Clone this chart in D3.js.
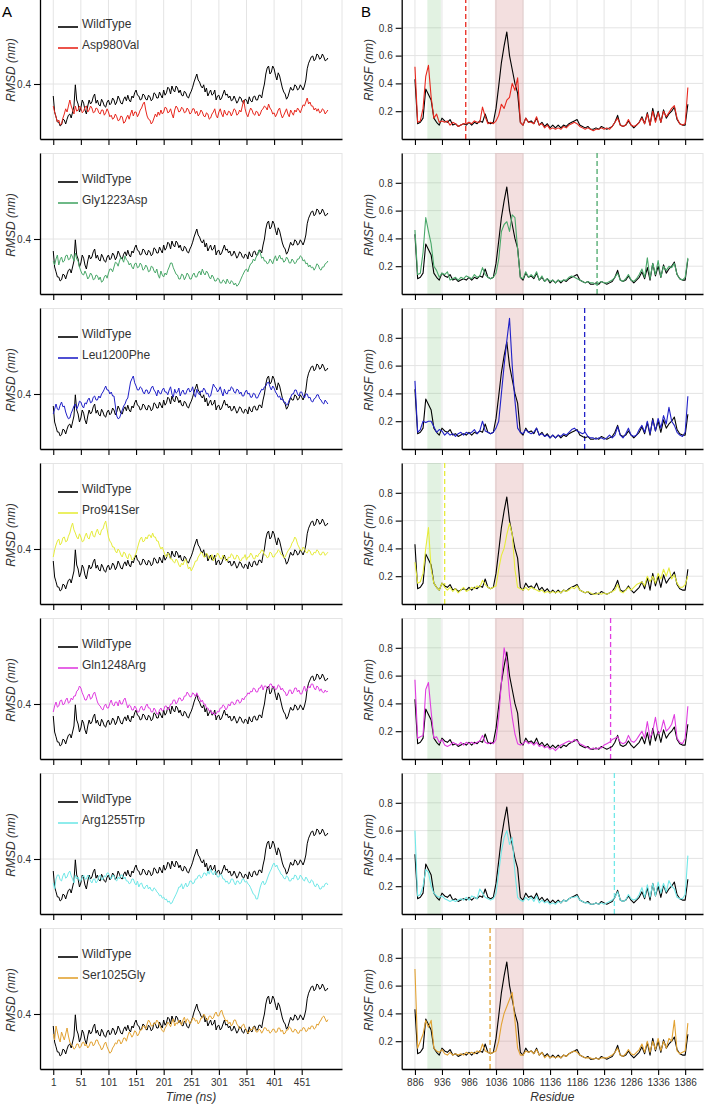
<!DOCTYPE html>
<html><head><meta charset="utf-8">
<script src="https://cdn.jsdelivr.net/npm/d3@7"></script>
<style>body{margin:0;background:#fff}svg{display:block}text{font-family:"Liberation Sans",Arial,Helvetica,sans-serif}</style>
</head><body><svg id="chart" width="705" height="1106"></svg>
<script>
// ---------- data ----------
const time = d3.range(1, 500, 2.5);        // ns, sampled every 2.5 ns
const residue = d3.range(886, 1392, 5);    // residue index, every 5 residues

const mutants = ["Asp980Val","Gly1223Asp","Leu1200Phe","Pro941Ser","Gln1248Arg","Arg1255Trp","Ser1025Gly"];
const mutantColors = ["#e8281e","#4aa86a","#2222c8","#e6ec3c","#e03ee0","#72e8e8","#e2a232"];
const mutationSites = [980,1223,1200,941,1248,1255,1025];
const greenBand = [909, 934];
const pinkBand = [1034, 1087];

const timeTicks = [1,51,101,151,201,251,301,351,401,451];
const residueTicks = [886,936,986,1036,1086,1136,1186,1236,1286,1336,1386];
const rmsdTicks = [0.4];
const rmsfTicks = [0.2,0.4,0.6,0.8];

const rmsdWildType = [
0.37,0.33,0.318,0.305,0.305,0.295,0.298,0.312,0.31,0.3,0.312,0.322,0.325,0.315,0.33,0.345,0.398,0.36,0.35,0.33,
0.34,0.36,0.352,0.335,0.325,0.345,0.36,0.35,0.355,0.368,0.375,0.352,0.36,0.348,0.345,0.362,0.355,0.345,0.342,0.355,
0.36,0.348,0.352,0.365,0.36,0.348,0.355,0.37,0.362,0.352,0.35,0.362,0.368,0.358,0.372,0.36,0.355,0.37,0.365,0.378,
0.385,0.372,0.37,0.36,0.362,0.375,0.372,0.362,0.36,0.372,0.368,0.358,0.362,0.378,0.375,0.365,0.365,0.38,0.372,0.365,
0.385,0.372,0.378,0.392,0.388,0.375,0.395,0.385,0.38,0.395,0.39,0.378,0.385,0.372,0.37,0.382,0.378,0.368,0.365,0.375,
0.382,0.392,0.405,0.415,0.425,0.41,0.405,0.395,0.39,0.398,0.38,0.39,0.37,0.378,0.385,0.372,0.375,0.385,0.36,0.37,
0.372,0.36,0.365,0.375,0.385,0.372,0.375,0.365,0.37,0.358,0.36,0.37,0.362,0.352,0.358,0.368,0.365,0.355,0.352,0.362,
0.36,0.35,0.368,0.358,0.355,0.368,0.37,0.36,0.36,0.372,0.372,0.365,0.385,0.4,0.425,0.44,0.445,0.425,0.43,0.445,
0.438,0.422,0.41,0.428,0.42,0.405,0.39,0.38,0.375,0.362,0.368,0.38,0.392,0.385,0.385,0.398,0.395,0.385,0.388,0.398,
0.392,0.385,0.395,0.41,0.438,0.452,0.46,0.468,0.47,0.458,0.462,0.475,0.472,0.462,0.465,0.475,0.468,0.458,0.46,0.465];
const rmsdAsp980Val = [
0.345,0.33,0.318,0.305,0.31,0.298,0.3,0.315,0.325,0.338,0.33,0.345,0.36,0.345,0.335,0.325,0.345,0.332,0.335,0.345,
0.34,0.328,0.332,0.342,0.345,0.33,0.335,0.345,0.34,0.328,0.33,0.34,0.338,0.328,0.325,0.335,0.335,0.322,0.328,0.338,
0.33,0.318,0.322,0.312,0.315,0.325,0.318,0.308,0.31,0.32,0.318,0.302,0.305,0.315,0.322,0.312,0.325,0.335,0.32,0.33,
0.33,0.318,0.325,0.335,0.34,0.35,0.355,0.335,0.32,0.312,0.31,0.3,0.305,0.315,0.325,0.318,0.33,0.322,0.335,0.325,
0.33,0.342,0.34,0.328,0.33,0.338,0.325,0.315,0.335,0.345,0.34,0.33,0.332,0.342,0.338,0.328,0.33,0.34,0.335,0.325,
0.328,0.338,0.338,0.326,0.332,0.32,0.325,0.335,0.33,0.32,0.318,0.328,0.325,0.312,0.315,0.325,0.33,0.338,0.322,0.315,
0.33,0.338,0.325,0.318,0.335,0.325,0.322,0.332,0.33,0.32,0.328,0.338,0.335,0.322,0.325,0.335,0.33,0.345,0.36,0.338,
0.325,0.318,0.33,0.34,0.335,0.325,0.322,0.332,0.33,0.32,0.325,0.335,0.338,0.345,0.342,0.335,0.35,0.34,0.335,0.325,
0.328,0.318,0.325,0.335,0.34,0.325,0.315,0.322,0.33,0.338,0.325,0.318,0.335,0.328,0.322,0.335,0.33,0.34,0.335,0.328,
0.338,0.348,0.345,0.355,0.365,0.35,0.355,0.345,0.345,0.335,0.34,0.332,0.338,0.328,0.33,0.338,0.335,0.325,0.33,0.335];
const rmsdGly1223Asp = [
0.345,0.335,0.35,0.36,0.335,0.348,0.355,0.342,0.345,0.358,0.36,0.348,0.35,0.362,0.355,0.345,0.365,0.35,0.345,0.33,
0.32,0.312,0.31,0.32,0.312,0.3,0.305,0.315,0.31,0.298,0.3,0.31,0.308,0.298,0.305,0.292,0.295,0.305,0.31,0.302,
0.315,0.325,0.325,0.318,0.33,0.342,0.34,0.332,0.345,0.355,0.35,0.342,0.358,0.348,0.345,0.335,0.34,0.33,0.325,0.338,
0.34,0.328,0.33,0.34,0.335,0.322,0.325,0.335,0.33,0.318,0.32,0.332,0.33,0.32,0.315,0.325,0.31,0.302,0.32,0.31,
0.305,0.315,0.31,0.322,0.33,0.34,0.34,0.328,0.32,0.312,0.31,0.3,0.3,0.312,0.31,0.298,0.305,0.315,0.31,0.3,
0.3,0.31,0.315,0.305,0.305,0.315,0.32,0.31,0.325,0.315,0.31,0.32,0.315,0.305,0.3,0.31,0.305,0.295,0.295,0.302,
0.3,0.29,0.29,0.298,0.295,0.288,0.3,0.292,0.288,0.296,0.292,0.285,0.29,0.282,0.285,0.292,0.3,0.308,0.315,0.322,
0.325,0.318,0.33,0.338,0.34,0.35,0.345,0.355,0.36,0.372,0.365,0.352,0.355,0.345,0.345,0.338,0.34,0.35,0.345,0.338,
0.35,0.358,0.345,0.352,0.36,0.35,0.352,0.342,0.345,0.355,0.35,0.34,0.34,0.35,0.345,0.338,0.342,0.35,0.35,0.358,
0.355,0.345,0.348,0.338,0.34,0.33,0.335,0.328,0.33,0.322,0.328,0.338,0.335,0.325,0.322,0.33,0.33,0.338,0.34,0.345];
const rmsdLeu1200Phe = [
0.35,0.362,0.375,0.362,0.36,0.372,0.38,0.368,0.37,0.355,0.345,0.338,0.34,0.352,0.36,0.37,0.375,0.362,0.37,0.382,
0.38,0.37,0.365,0.378,0.375,0.385,0.39,0.378,0.38,0.392,0.395,0.385,0.385,0.395,0.39,0.4,0.405,0.412,0.42,0.41,
0.41,0.4,0.405,0.395,0.395,0.37,0.345,0.338,0.34,0.35,0.36,0.37,0.375,0.385,0.39,0.41,0.43,0.438,0.445,0.428,
0.42,0.41,0.41,0.418,0.415,0.405,0.4,0.41,0.41,0.4,0.405,0.415,0.42,0.41,0.405,0.395,0.41,0.402,0.4,0.41,
0.415,0.405,0.405,0.398,0.41,0.418,0.4,0.392,0.412,0.402,0.405,0.415,0.395,0.405,0.41,0.4,0.4,0.41,0.415,0.405,
0.408,0.418,0.4,0.392,0.412,0.402,0.398,0.408,0.405,0.415,0.41,0.4,0.402,0.392,0.395,0.41,0.425,0.418,0.415,0.405,
0.41,0.418,0.405,0.395,0.412,0.402,0.4,0.41,0.408,0.418,0.415,0.405,0.402,0.412,0.41,0.4,0.405,0.395,0.395,0.405,
0.41,0.4,0.402,0.392,0.392,0.402,0.4,0.39,0.39,0.398,0.405,0.412,0.41,0.418,0.42,0.428,0.43,0.418,0.41,0.42,
0.415,0.405,0.4,0.392,0.395,0.385,0.39,0.38,0.38,0.372,0.375,0.385,0.392,0.4,0.4,0.41,0.41,0.4,0.395,0.405,
0.405,0.395,0.39,0.4,0.4,0.39,0.392,0.382,0.38,0.388,0.39,0.398,0.398,0.388,0.385,0.378,0.375,0.385,0.38,0.375];
const rmsdPro941Ser = [
0.38,0.398,0.41,0.42,0.425,0.41,0.415,0.428,0.43,0.418,0.42,0.432,0.44,0.455,0.465,0.448,0.44,0.43,0.425,0.438,
0.43,0.418,0.42,0.432,0.44,0.428,0.425,0.438,0.445,0.432,0.43,0.442,0.45,0.438,0.435,0.448,0.45,0.462,0.47,0.45,
0.43,0.42,0.415,0.405,0.405,0.395,0.39,0.4,0.395,0.385,0.38,0.392,0.39,0.38,0.375,0.388,0.385,0.372,0.375,0.382,
0.39,0.402,0.415,0.425,0.43,0.418,0.42,0.43,0.425,0.435,0.435,0.428,0.44,0.43,0.43,0.42,0.42,0.408,0.4,0.405,
0.395,0.385,0.38,0.39,0.385,0.375,0.375,0.368,0.365,0.375,0.37,0.36,0.355,0.365,0.36,0.37,0.375,0.362,0.35,0.355,
0.345,0.352,0.36,0.37,0.37,0.38,0.385,0.392,0.39,0.38,0.38,0.39,0.385,0.375,0.378,0.386,0.37,0.378,0.38,0.39,
0.385,0.376,0.375,0.385,0.38,0.372,0.37,0.38,0.378,0.388,0.385,0.375,0.375,0.385,0.382,0.372,0.37,0.378,0.378,0.386,
0.372,0.38,0.38,0.39,0.385,0.376,0.375,0.385,0.38,0.388,0.39,0.398,0.395,0.385,0.385,0.378,0.38,0.392,0.39,0.38,
0.38,0.388,0.39,0.398,0.395,0.386,0.385,0.378,0.38,0.388,0.395,0.4,0.405,0.415,0.42,0.43,0.425,0.412,0.405,0.398,
0.395,0.405,0.4,0.392,0.39,0.398,0.395,0.386,0.385,0.392,0.39,0.398,0.395,0.386,0.385,0.392,0.392,0.384,0.388,0.392];
const rmsdGln1248Arg = [
0.38,0.395,0.405,0.392,0.395,0.408,0.41,0.398,0.4,0.41,0.415,0.402,0.405,0.415,0.41,0.42,0.42,0.432,0.435,0.445,
0.44,0.428,0.42,0.41,0.41,0.42,0.425,0.412,0.415,0.425,0.43,0.418,0.405,0.398,0.395,0.388,0.385,0.395,0.4,0.39,
0.39,0.402,0.41,0.398,0.395,0.405,0.405,0.395,0.41,0.4,0.4,0.41,0.415,0.402,0.39,0.398,0.395,0.385,0.385,0.395,
0.39,0.38,0.38,0.39,0.395,0.385,0.385,0.395,0.4,0.39,0.39,0.38,0.38,0.39,0.385,0.375,0.375,0.385,0.39,0.382,
0.385,0.395,0.395,0.385,0.39,0.4,0.4,0.41,0.41,0.4,0.405,0.415,0.415,0.408,0.41,0.42,0.42,0.43,0.425,0.418,
0.418,0.428,0.425,0.418,0.428,0.42,0.415,0.405,0.41,0.4,0.4,0.39,0.39,0.382,0.385,0.375,0.38,0.372,0.375,0.382,
0.38,0.39,0.39,0.398,0.395,0.385,0.39,0.4,0.395,0.405,0.405,0.398,0.4,0.41,0.41,0.402,0.405,0.415,0.41,0.418,
0.42,0.428,0.425,0.432,0.43,0.44,0.438,0.43,0.43,0.44,0.44,0.448,0.435,0.445,0.445,0.438,0.44,0.45,0.45,0.44,
0.445,0.435,0.438,0.448,0.445,0.435,0.44,0.432,0.43,0.42,0.425,0.435,0.435,0.425,0.43,0.44,0.44,0.43,0.435,0.425,
0.425,0.435,0.445,0.432,0.435,0.445,0.44,0.45,0.45,0.44,0.435,0.445,0.442,0.432,0.438,0.43,0.428,0.435,0.43,0.432];
const rmsdArg1255Trp = [
0.34,0.325,0.35,0.36,0.36,0.348,0.345,0.358,0.365,0.352,0.355,0.365,0.37,0.358,0.35,0.34,0.36,0.35,0.355,0.345,
0.345,0.355,0.36,0.35,0.35,0.36,0.355,0.345,0.34,0.35,0.35,0.34,0.345,0.355,0.36,0.348,0.35,0.358,0.355,0.365,
0.365,0.355,0.35,0.36,0.358,0.348,0.345,0.355,0.35,0.36,0.36,0.35,0.355,0.345,0.345,0.338,0.34,0.35,0.35,0.34,
0.335,0.345,0.33,0.338,0.34,0.33,0.325,0.332,0.335,0.325,0.33,0.322,0.32,0.328,0.325,0.318,0.315,0.308,0.31,0.302,
0.305,0.298,0.3,0.292,0.295,0.288,0.29,0.298,0.305,0.312,0.32,0.33,0.33,0.338,0.325,0.332,0.34,0.33,0.335,0.345,
0.345,0.338,0.34,0.35,0.35,0.358,0.36,0.352,0.355,0.365,0.365,0.358,0.37,0.362,0.375,0.365,0.36,0.37,0.365,0.355,
0.355,0.362,0.36,0.35,0.35,0.342,0.345,0.338,0.34,0.35,0.35,0.342,0.335,0.345,0.345,0.338,0.34,0.35,0.35,0.342,
0.345,0.338,0.335,0.328,0.32,0.312,0.31,0.3,0.3,0.315,0.33,0.34,0.345,0.335,0.34,0.35,0.36,0.368,0.375,0.385,
0.39,0.38,0.385,0.375,0.37,0.362,0.36,0.352,0.35,0.358,0.355,0.345,0.345,0.352,0.35,0.36,0.358,0.348,0.35,0.36,
0.355,0.348,0.345,0.355,0.35,0.342,0.34,0.348,0.345,0.335,0.33,0.338,0.335,0.325,0.325,0.332,0.33,0.338,0.34,0.335];
const rmsdSer1025Gly = [
0.35,0.335,0.37,0.355,0.34,0.33,0.355,0.345,0.335,0.35,0.365,0.345,0.33,0.322,0.32,0.312,0.315,0.325,0.325,0.315,
0.318,0.328,0.33,0.32,0.325,0.315,0.32,0.33,0.33,0.32,0.325,0.335,0.335,0.325,0.32,0.31,0.315,0.325,0.33,0.318,
0.31,0.302,0.305,0.315,0.32,0.328,0.325,0.335,0.335,0.325,0.33,0.34,0.34,0.332,0.345,0.355,0.35,0.342,0.348,0.358,
0.355,0.345,0.35,0.36,0.36,0.37,0.37,0.362,0.375,0.385,0.38,0.37,0.37,0.378,0.375,0.385,0.38,0.372,0.365,0.358,
0.355,0.365,0.37,0.38,0.375,0.368,0.38,0.388,0.37,0.378,0.375,0.385,0.38,0.372,0.385,0.392,0.378,0.388,0.385,0.375,
0.38,0.39,0.39,0.382,0.385,0.375,0.38,0.39,0.39,0.4,0.395,0.385,0.385,0.395,0.395,0.388,0.39,0.4,0.405,0.395,
0.395,0.405,0.41,0.398,0.39,0.382,0.385,0.375,0.38,0.37,0.375,0.385,0.385,0.375,0.37,0.362,0.365,0.372,0.375,0.365,
0.36,0.352,0.355,0.362,0.36,0.368,0.365,0.355,0.355,0.362,0.36,0.352,0.358,0.366,0.365,0.358,0.36,0.352,0.355,0.362,
0.362,0.354,0.355,0.365,0.365,0.356,0.36,0.35,0.352,0.36,0.36,0.368,0.365,0.356,0.355,0.362,0.36,0.352,0.352,0.36,
0.358,0.366,0.365,0.356,0.358,0.366,0.362,0.37,0.37,0.362,0.365,0.375,0.372,0.38,0.385,0.392,0.395,0.388,0.38,0.386];

const rmsfWildType = [0.43,0.11,0.12,0.15,0.36,0.32,0.28,0.15,0.12,0.1,
 0.15,0.13,0.12,0.14,0.1,0.11,0.09,0.1,0.11,0.1,
 0.12,0.1,0.12,0.11,0.13,0.12,0.18,0.12,0.11,0.12,
 0.22,0.38,0.55,0.67,0.77,0.6,0.5,0.4,0.33,0.12,
 0.1,0.15,0.12,0.13,0.11,0.15,0.1,0.12,0.09,0.11,
 0.08,0.1,0.08,0.1,0.08,0.1,0.09,0.11,0.12,0.13,
 0.14,0.1,0.09,0.08,0.09,0.07,0.07,0.08,0.07,0.09,
 0.08,0.07,0.08,0.09,0.12,0.17,0.1,0.09,0.1,0.13,
 0.1,0.08,0.1,0.12,0.16,0.11,0.19,0.1,0.22,0.13,
 0.2,0.12,0.21,0.15,0.18,0.2,0.23,0.14,0.11,0.1,
 0.1,0.25];
const rmsfAsp980Val = [0.52,0.12,0.13,0.22,0.45,0.53,0.3,0.15,0.18,0.12,
 0.13,0.12,0.13,0.1,0.12,0.11,0.09,0.1,0.11,0.11,
 0.12,0.11,0.13,0.12,0.12,0.23,0.16,0.11,0.12,0.11,
 0.13,0.17,0.25,0.22,0.28,0.3,0.4,0.35,0.44,0.12,
 0.1,0.15,0.12,0.12,0.11,0.16,0.1,0.11,0.08,0.1,
 0.07,0.08,0.07,0.08,0.07,0.09,0.08,0.1,0.11,0.12,
 0.11,0.09,0.08,0.07,0.08,0.07,0.06,0.07,0.07,0.08,
 0.07,0.08,0.07,0.09,0.12,0.15,0.1,0.09,0.1,0.14,
 0.1,0.09,0.1,0.12,0.15,0.11,0.18,0.1,0.2,0.12,
 0.19,0.12,0.2,0.16,0.19,0.22,0.24,0.15,0.11,0.1,
 0.11,0.37];
const rmsfGly1223Asp = [0.46,0.14,0.15,0.3,0.55,0.45,0.36,0.2,0.17,0.12,
 0.15,0.14,0.16,0.1,0.11,0.12,0.1,0.12,0.11,0.13,
 0.12,0.11,0.14,0.12,0.13,0.19,0.14,0.12,0.11,0.12,
 0.15,0.25,0.45,0.5,0.52,0.45,0.57,0.55,0.32,0.12,
 0.11,0.16,0.12,0.14,0.12,0.16,0.1,0.13,0.09,0.11,
 0.09,0.1,0.08,0.1,0.09,0.1,0.1,0.12,0.13,0.12,
 0.11,0.1,0.09,0.08,0.09,0.08,0.08,0.07,0.08,0.09,
 0.08,0.08,0.09,0.1,0.12,0.15,0.1,0.09,0.11,0.14,
 0.1,0.09,0.11,0.14,0.18,0.12,0.26,0.11,0.22,0.14,
 0.24,0.12,0.2,0.17,0.2,0.19,0.22,0.14,0.11,0.1,
 0.12,0.26];
const rmsfLeu1200Phe = [0.49,0.12,0.14,0.2,0.19,0.2,0.2,0.16,0.12,0.14,
 0.13,0.1,0.12,0.1,0.11,0.09,0.11,0.12,0.1,0.12,
 0.11,0.12,0.14,0.11,0.13,0.2,0.13,0.12,0.11,0.12,
 0.15,0.2,0.4,0.6,0.78,0.94,0.6,0.35,0.15,0.12,
 0.11,0.14,0.12,0.11,0.12,0.15,0.1,0.11,0.09,0.1,
 0.08,0.1,0.08,0.1,0.09,0.11,0.1,0.12,0.14,0.15,
 0.13,0.12,0.11,0.12,0.09,0.08,0.08,0.07,0.08,0.08,
 0.07,0.08,0.1,0.08,0.1,0.16,0.1,0.08,0.11,0.15,
 0.1,0.09,0.1,0.14,0.17,0.12,0.2,0.11,0.21,0.13,
 0.22,0.15,0.24,0.18,0.3,0.2,0.17,0.12,0.1,0.09,
 0.12,0.38];
const rmsfPro941Ser = [0.3,0.15,0.16,0.22,0.4,0.55,0.25,0.15,0.12,0.1,
 0.15,0.12,0.1,0.12,0.09,0.11,0.08,0.1,0.12,0.09,
 0.1,0.12,0.11,0.13,0.12,0.17,0.14,0.12,0.11,0.12,
 0.13,0.25,0.35,0.4,0.5,0.58,0.5,0.25,0.12,0.11,
 0.1,0.12,0.1,0.12,0.11,0.1,0.09,0.1,0.08,0.09,
 0.08,0.09,0.08,0.09,0.08,0.1,0.09,0.1,0.12,0.11,
 0.13,0.1,0.09,0.08,0.09,0.08,0.07,0.07,0.08,0.07,
 0.08,0.07,0.08,0.09,0.1,0.14,0.09,0.08,0.1,0.12,
 0.1,0.12,0.14,0.15,0.16,0.13,0.2,0.16,0.2,0.15,
 0.22,0.18,0.25,0.2,0.26,0.18,0.21,0.15,0.12,0.12,
 0.14,0.2];
const rmsfGln1248Arg = [0.57,0.15,0.16,0.17,0.5,0.55,0.34,0.15,0.16,0.12,
 0.14,0.1,0.09,0.1,0.12,0.11,0.1,0.12,0.1,0.12,
 0.11,0.12,0.11,0.12,0.13,0.17,0.12,0.11,0.12,0.11,
 0.14,0.3,0.55,0.8,0.7,0.45,0.3,0.18,0.11,0.1,
 0.11,0.13,0.11,0.12,0.1,0.12,0.09,0.1,0.08,0.09,
 0.07,0.08,0.06,0.08,0.1,0.11,0.12,0.13,0.12,0.14,
 0.13,0.11,0.1,0.09,0.08,0.07,0.08,0.07,0.08,0.08,
 0.1,0.11,0.12,0.14,0.15,0.16,0.12,0.11,0.12,0.17,
 0.13,0.12,0.14,0.17,0.2,0.15,0.27,0.15,0.2,0.3,
 0.18,0.2,0.28,0.2,0.22,0.25,0.32,0.15,0.12,0.11,
 0.15,0.38];
const rmsfArg1255Trp = [0.6,0.13,0.14,0.2,0.32,0.3,0.2,0.15,0.13,0.12,
 0.13,0.11,0.1,0.09,0.1,0.09,0.1,0.11,0.1,0.12,
 0.1,0.13,0.12,0.11,0.18,0.15,0.12,0.11,0.1,0.11,
 0.15,0.3,0.45,0.55,0.6,0.5,0.55,0.3,0.12,0.1,
 0.09,0.12,0.1,0.12,0.09,0.13,0.08,0.1,0.08,0.09,
 0.07,0.08,0.07,0.09,0.08,0.1,0.09,0.11,0.12,0.12,
 0.13,0.1,0.09,0.08,0.08,0.07,0.07,0.08,0.07,0.08,
 0.07,0.08,0.09,0.1,0.12,0.16,0.1,0.09,0.1,0.14,
 0.11,0.1,0.11,0.14,0.19,0.12,0.21,0.12,0.22,0.13,
 0.23,0.15,0.22,0.16,0.24,0.2,0.18,0.12,0.11,0.11,
 0.14,0.42];
const rmsfSer1025Gly = [0.72,0.15,0.2,0.25,0.35,0.3,0.35,0.15,0.13,0.12,
 0.14,0.11,0.1,0.12,0.1,0.11,0.1,0.11,0.1,0.12,
 0.11,0.12,0.11,0.13,0.12,0.18,0.13,0.12,0.11,0.12,
 0.13,0.2,0.32,0.4,0.45,0.5,0.55,0.35,0.15,0.1,
 0.1,0.13,0.12,0.13,0.11,0.14,0.1,0.12,0.08,0.1,
 0.08,0.09,0.08,0.09,0.08,0.1,0.09,0.11,0.12,0.13,
 0.12,0.1,0.09,0.08,0.08,0.08,0.07,0.08,0.07,0.08,
 0.08,0.08,0.09,0.1,0.12,0.15,0.1,0.09,0.11,0.14,
 0.11,0.1,0.12,0.14,0.18,0.12,0.2,0.12,0.2,0.14,
 0.22,0.13,0.2,0.15,0.22,0.2,0.35,0.13,0.11,0.12,
 0.13,0.33];

const rmsdMutants = [rmsdAsp980Val,rmsdGly1223Asp,rmsdLeu1200Phe,rmsdPro941Ser,rmsdGln1248Arg,rmsdArg1255Trp,rmsdSer1025Gly];
const rmsfMutants = [rmsfAsp980Val,rmsfGly1223Asp,rmsfLeu1200Phe,rmsfPro941Ser,rmsfGln1248Arg,rmsfArg1255Trp,rmsfSer1025Gly];

// ---------- layout ----------
const svg = d3.select("#chart");
const panelH = 141, rowStep = 155, firstAxisY = 139;
const xA = d3.scaleLinear().domain([-23, 524]).range([40, 342]);
const xB = d3.scaleLinear().domain([861.5, 1419]).range([401.7, 703]);
const gridColor = "#e4e4e4";
const textColor = "#333";

function grid(g, x, y, xt, yt, top, base) {
  const [x0, x1] = x.range();
  g.selectAll(null).data(xt).join("line")
    .attr("x1", d => x(d)).attr("x2", d => x(d)).attr("y1", top).attr("y2", base)
    .attr("stroke", gridColor).attr("stroke-width", 1);
  g.selectAll(null).data(yt).join("line")
    .attr("x1", x0).attr("x2", x1).attr("y1", d => y(d)).attr("y2", d => y(d))
    .attr("stroke", gridColor).attr("stroke-width", 1);
  g.append("line").attr("x1", x1).attr("x2", x1).attr("y1", top).attr("y2", base).attr("stroke", gridColor);
  g.append("line").attr("x1", x0).attr("x2", x1).attr("y1", top + 0.5).attr("y2", top + 0.5).attr("stroke", gridColor);
}

function styleAxis(g, fs) {
  g.select(".domain").attr("stroke", "#000").attr("stroke-width", 1.3);
  g.selectAll(".tick line").attr("stroke", "#000").attr("stroke-width", 1.1);
  g.selectAll(".tick text").attr("fill", textColor).style("font-size", fs + "px")
    .style("font-family", '"Liberation Sans",Arial,sans-serif');
}

mutants.forEach((name, i) => {
  const base = firstAxisY + rowStep * i;
  const top = base - panelH;
  const last = i === mutants.length - 1;
  const color = mutantColors[i];
  const yA = d3.scaleLinear().domain([0.2625, 0.615]).range([base, top]);
  const yB = d3.scaleLinear().domain([0, 1.0144]).range([base, top]);

  // ----- Panel A: RMSD -----
  const gA = svg.append("g");
  grid(gA, xA, yA, timeTicks, rmsdTicks, top, base);
  const lineA = d3.line().x((d, k) => xA(time[k])).y(d => yA(d));
  gA.append("path").datum(rmsdWildType).attr("d", lineA)
    .attr("fill", "none").attr("stroke", "#000").attr("stroke-width", 1).attr("stroke-linejoin", "round");
  gA.append("path").datum(rmsdMutants[i]).attr("d", lineA)
    .attr("fill", "none").attr("stroke", color).attr("stroke-width", 1).attr("stroke-linejoin", "round");

  const axA = gA.append("g").attr("transform", `translate(0,${base})`)
    .call(d3.axisBottom(xA).tickValues(timeTicks).tickSize(6).tickSizeOuter(0).tickPadding(4)
      .tickFormat(last ? d3.format("d") : () => ""));
  styleAxis(axA, 10);
  const ayA = gA.append("g").attr("transform", `translate(40,0)`)
    .call(d3.axisLeft(yA).tickValues(rmsdTicks).tickSize(6).tickSizeOuter(0).tickPadding(3).tickFormat(d3.format(".1f")));
  styleAxis(ayA, 10);

  gA.append("text").attr("transform", `translate(11,${base - 69}) rotate(-90)`)
    .attr("text-anchor", "middle").attr("dy", "0.35em").style("font-size", "12px").style("font-style", "italic")
    .attr("fill", textColor).text("RMSD (nm)");

  // legend
  const legend = [["WildType", "#000", base - 112], [name, color, base - 91]];
  legend.forEach(([lab, c, ly]) => {
    gA.append("line").attr("x1", 58).attr("x2", 78).attr("y1", ly).attr("y2", ly)
      .attr("stroke", c).attr("stroke-width", 1.6);
    gA.append("text").attr("x", 82).attr("y", ly + 1).style("font-size", "12px").attr("fill", textColor).text(lab);
  });

  // ----- Panel B: RMSF -----
  const gB = svg.append("g");
  grid(gB, xB, yB, residueTicks, rmsfTicks, top, base);
  gB.append("rect").attr("x", xB(greenBand[0])).attr("width", xB(greenBand[1]) - xB(greenBand[0]))
    .attr("y", top).attr("height", panelH).attr("fill", "rgba(110,190,110,0.2)");
  gB.append("rect").attr("x", xB(pinkBand[0])).attr("width", xB(pinkBand[1]) - xB(pinkBand[0]))
    .attr("y", top).attr("height", panelH).attr("fill", "rgba(200,110,110,0.22)");
  gB.append("line").attr("x1", xB(mutationSites[i])).attr("x2", xB(mutationSites[i]))
    .attr("y1", top).attr("y2", base).attr("stroke", color).attr("stroke-width", 1.3).attr("stroke-dasharray", "5,3");

  const lineB = d3.line().x((d, k) => xB(residue[k])).y(d => yB(d));
  gB.append("path").datum(rmsfWildType).attr("d", lineB)
    .attr("fill", "none").attr("stroke", "#000").attr("stroke-width", 1.1).attr("stroke-linejoin", "round");
  gB.append("path").datum(rmsfMutants[i]).attr("d", lineB)
    .attr("fill", "none").attr("stroke", color).attr("stroke-width", 1.1).attr("stroke-linejoin", "round");

  const axB = gB.append("g").attr("transform", `translate(0,${base})`)
    .call(d3.axisBottom(xB).tickValues(residueTicks).tickSize(6).tickSizeOuter(0).tickPadding(4)
      .tickFormat(last ? d3.format("d") : () => ""));
  styleAxis(axB, 10);
  const ayB = gB.append("g").attr("transform", `translate(401.7,0)`)
    .call(d3.axisLeft(yB).tickValues(rmsfTicks).tickSize(6).tickSizeOuter(0).tickPadding(3).tickFormat(d3.format(".1f")));
  styleAxis(ayB, 10);

  gB.append("text").attr("transform", `translate(369,${base - 69}) rotate(-90)`)
    .attr("text-anchor", "middle").attr("dy", "0.35em").style("font-size", "12px").style("font-style", "italic")
    .attr("fill", textColor).text("RMSF (nm)");
});

// axis titles & panel letters
const lastBase = firstAxisY + rowStep * (mutants.length - 1);
svg.append("text").attr("x", (xA.range()[0] + xA.range()[1]) / 2).attr("y", lastBase + 32)
  .attr("text-anchor", "middle").style("font-size", "12px").style("font-style", "italic").attr("fill", textColor).text("Time (ns)");
svg.append("text").attr("x", (xB.range()[0] + xB.range()[1]) / 2).attr("y", lastBase + 32)
  .attr("text-anchor", "middle").style("font-size", "12px").style("font-style", "italic").attr("fill", textColor).text("Residue");
svg.append("text").attr("x", 2).attr("y", 17).style("font-size", "15px").attr("fill", "#000").text("A");
svg.append("text").attr("x", 361).attr("y", 17).style("font-size", "15px").attr("fill", "#000").text("B");
</script></body></html>
